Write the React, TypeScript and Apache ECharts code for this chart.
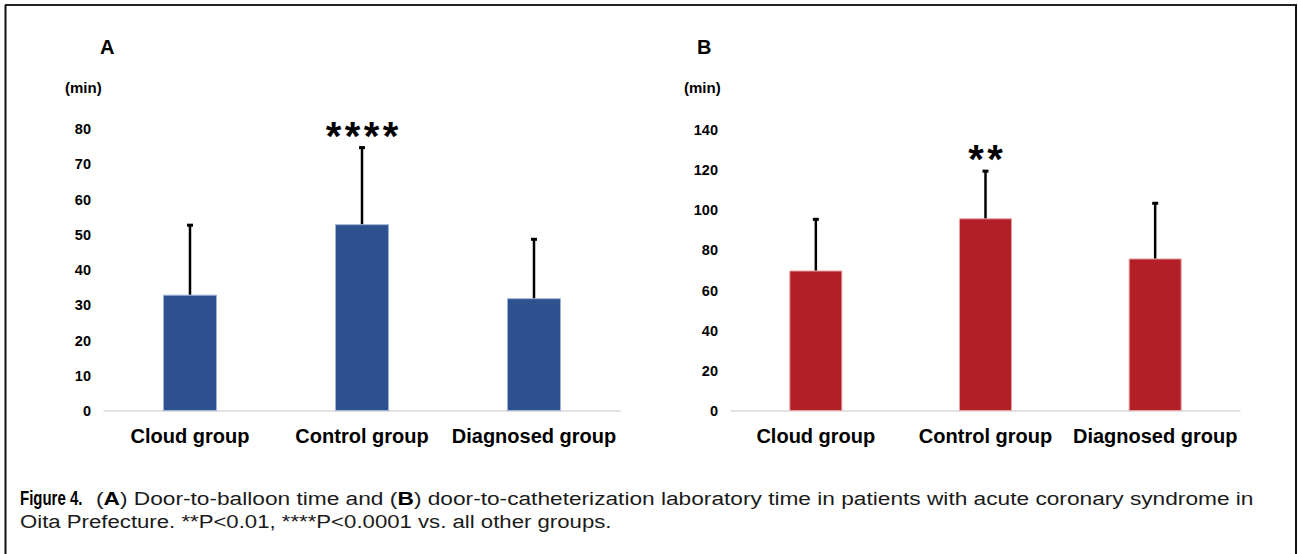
import React, { useEffect, useRef } from "react";
import * as echarts from "echarts";

const categories = ["Cloud group", "Control group", "Diagnosed group"];
const meanA = [33, 53, 32];
const sdA = [20, 22, 17];
const sigA = [0, 4, 0];
const meanB = [70, 96, 76];
const sdB = [26, 24, 28];
const sigB = [0, 2, 0];
const axisA = { min: 0, max: 80, interval: 10 };
const axisB = { min: 0, max: 140, interval: 20 };
const captionLabel = "Figure 4.";
const captionLine1 = "Door-to-balloon time and ";
const captionLine1b = "door-to-catheterization laboratory time in patients with acute coronary syndrome in";
const captionLine2 = "Oita Prefecture. **P<0.01, ****P<0.0001 vs. all other groups.";

const FONT = "'Liberation Sans', Arial, Helvetica, sans-serif";

function errorSeries(idx: number, mean: number[], sd: number[], sig: number[]) {
  return {
    type: "custom",
    xAxisIndex: idx,
    yAxisIndex: idx,
    z: 5,
    clip: false,
    data: mean.map((m, i) => [i, m, m + sd[i]]),
    renderItem: (params: any, api: any) => {
      const x = api.value(0);
      const lo = api.coord([x, api.value(1)]);
      const hi = api.coord([x, api.value(2)]);
      const n = sig[params.dataIndex];
      const children: any[] = [
        {
          type: "line",
          shape: { x1: lo[0], y1: lo[1], x2: hi[0], y2: hi[1] },
          style: { stroke: "#000", lineWidth: 2.5 },
        },
        {
          type: "rect",
          shape: { x: hi[0] - 3, y: hi[1] - 0.5, width: 6, height: 3 },
          style: { fill: "#000" },
        },
      ];
      for (let k = 0; k < n; k++) {
        children.push({
          type: "text",
          x: hi[0] + (k - (n - 1) / 2) * 19,
          y: hi[1] - 11,
          style: {
            text: "*",
            fill: "#000",
            font: `bold 40px ${FONT}`,
            align: "center",
            verticalAlign: "middle",
          },
        });
      }
      return { type: "group", children };
    },
  };
}

export default function App() {
  const ref = useRef<HTMLDivElement>(null);
  useEffect(() => {
    const chart = echarts.init(ref.current!, null, { renderer: "svg" });
    const xAxisCommon = {
      type: "category",
      data: categories,
      axisLine: { lineStyle: { color: "#d9d9d9", width: 1.5 } },
      axisTick: { show: false },
      axisLabel: {
        color: "#000",
        fontWeight: "bold",
        fontSize: 20,
        fontFamily: FONT,
        margin: 15,
        interval: 0,
      },
    };
    const yAxisCommon = {
      type: "value",
      axisLine: { show: false },
      axisTick: { show: false },
      splitLine: { show: false },
      axisLabel: {
        color: "#000",
        fontWeight: "bold",
        fontSize: 14.5,
        fontFamily: FONT,
        margin: 13,
      },
    };
    const capStyle = { font: `18px ${FONT}`, fill: "#1a1a1a", verticalAlign: "middle" };
    chart.setOption({
      animation: false,
      backgroundColor: "#fff",
      grid: [
        { left: 104, top: 129, width: 516, height: 282 },
        { left: 731, top: 130, width: 509, height: 281 },
      ],
      xAxis: [
        { ...xAxisCommon, gridIndex: 0 },
        { ...xAxisCommon, gridIndex: 1 },
      ],
      yAxis: [
        { ...yAxisCommon, gridIndex: 0, ...axisA },
        { ...yAxisCommon, gridIndex: 1, ...axisB },
      ],
      series: [
        {
          type: "bar",
          xAxisIndex: 0,
          yAxisIndex: 0,
          data: meanA,
          barWidth: 54,
          itemStyle: { color: "#2E5190", borderColor: "#9fb3d6", borderWidth: 1 },
        },
        {
          type: "bar",
          xAxisIndex: 1,
          yAxisIndex: 1,
          data: meanB,
          barWidth: 53,
          itemStyle: { color: "#B21F26", borderColor: "#e8a0a0", borderWidth: 1 },
        },
        errorSeries(0, meanA, sdA, sigA),
        errorSeries(1, meanB, sdB, sigB),
      ],
      graphic: [
        { type: "line", shape: { x1: 5, y1: 5, x2: 1297, y2: 5 }, style: { stroke: "#222", lineWidth: 2 } },
        { type: "line", shape: { x1: 5.5, y1: 5, x2: 5.5, y2: 554 }, style: { stroke: "#111", lineWidth: 2 } },
        { type: "line", shape: { x1: 1296, y1: 5, x2: 1296, y2: 554 }, style: { stroke: "#111", lineWidth: 2 } },
        { type: "text", x: 100, y: 47, style: { text: "A", font: `bold 20px ${FONT}`, fill: "#000", verticalAlign: "middle" } },
        { type: "text", x: 697, y: 47, style: { text: "B", font: `bold 20px ${FONT}`, fill: "#000", verticalAlign: "middle" } },
        { type: "text", x: 65, y: 87, style: { text: "(min)", font: `bold 15px ${FONT}`, fill: "#000", verticalAlign: "middle" } },
        { type: "text", x: 684, y: 87, style: { text: "(min)", font: `bold 15px ${FONT}`, fill: "#000", verticalAlign: "middle" } },
        {
          type: "text",
          x: 20,
          y: 498,
          scaleX: 0.75,
          style: {
            text: captionLabel,
            font: `bold 20px ${FONT}`,
            fill: "#000",
            verticalAlign: "middle",
          },
        },
        {
          type: "text",
          x: 96,
          y: 498,
          scaleX: 1.261,
          style: {
            ...capStyle,
            text: `({b|A}) ${captionLine1}({b|B}) ${captionLine1b}`,
            rich: { b: { fontWeight: "bold", fontSize: 18, fontFamily: FONT, fill: "#000" } },
          },
        },
        {
          type: "text",
          x: 20,
          y: 522,
          scaleX: 1.232,
          style: { ...capStyle, text: captionLine2 },
        },
      ],
    });
    return () => chart.dispose();
  }, []);
  return (
    <div
      ref={ref}
      style={{ position: "fixed", left: 0, top: 0, width: 1298, height: 554 }}
    />
  );
}
